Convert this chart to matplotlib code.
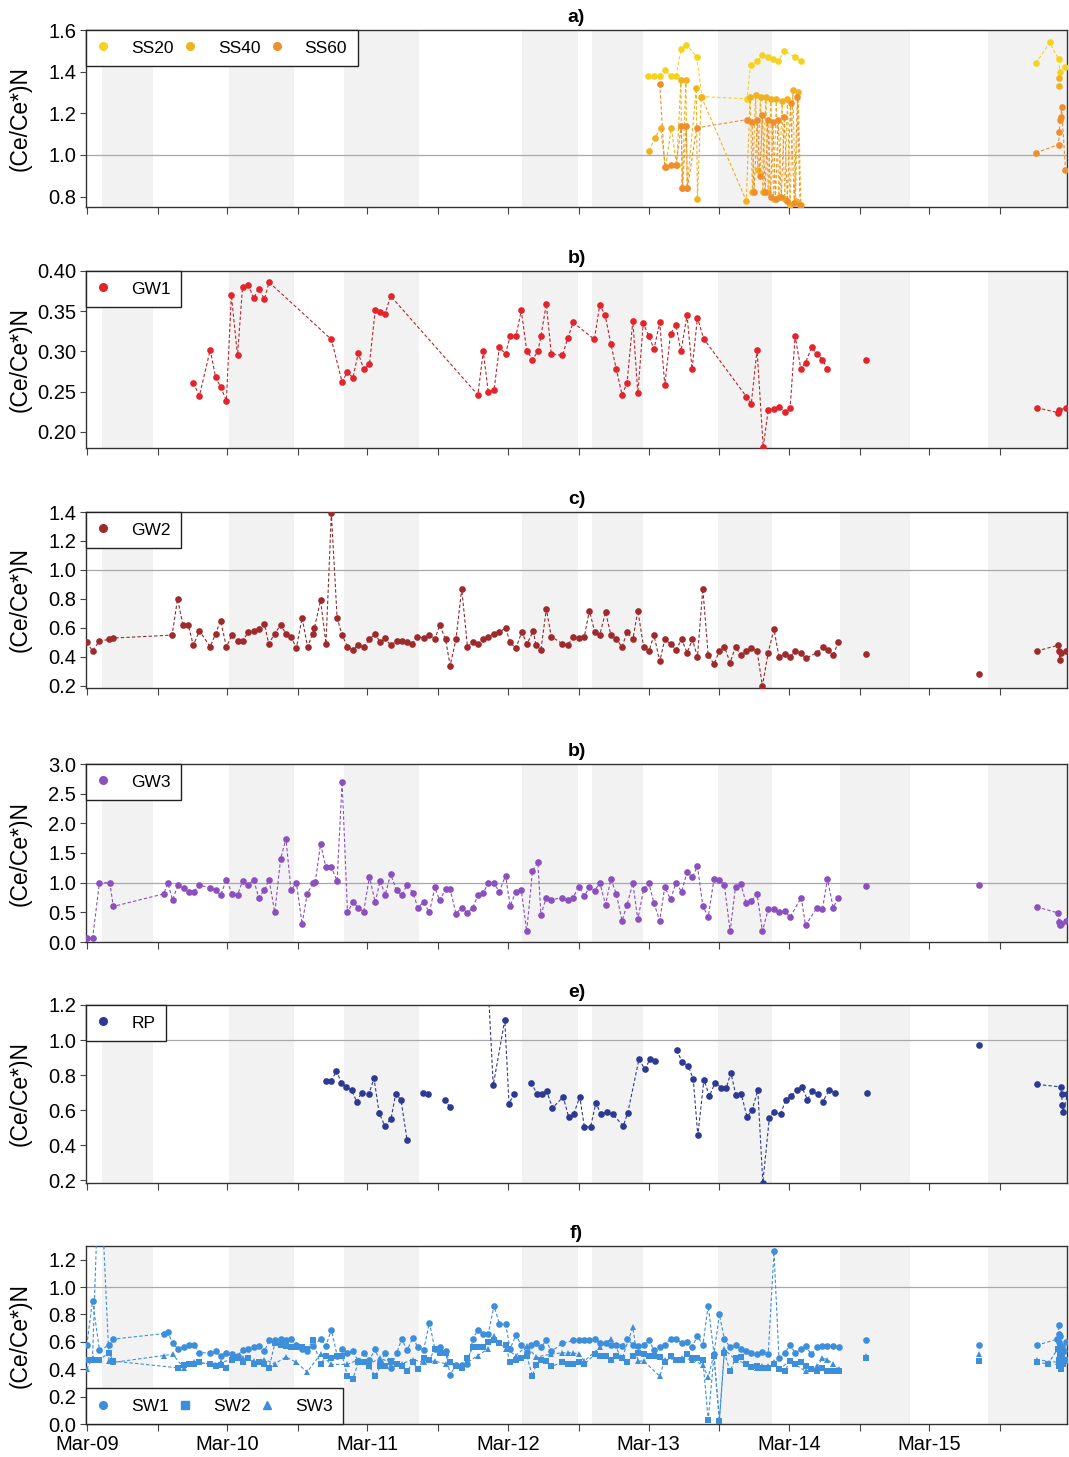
import numpy as np
import matplotlib
matplotlib.use("Agg")
import matplotlib.pyplot as plt
import matplotlib.dates as mdates
from matplotlib.lines import Line2D

plt.rcParams["font.family"] = ["Liberation Sans", "DejaVu Sans"]

# sampling days are counted from 2009-03-01; each inner list is one joined run
t0 = np.datetime64("2009-03-01")

# shaded periods
band_start = ["2009-04-09", "2010-03-05", "2010-12-31", "2012-04-07",
              "2012-10-06", "2013-08-29", "2014-07-12", "2015-07-31"]
band_end = ["2009-08-19", "2010-08-23", "2011-07-14", "2012-08-30",
            "2013-02-15", "2014-01-16", "2015-01-10", "2016-03-01"]

# a) soil solutions
ss20_days = [[1460, 1475, 1490, 1503, 1518, 1532, 1546, 1559, 1586, 1600,
              1717, 1726, 1744, 1757, 1771, 1784, 1798, 1814, 1841, 1856],
             [2468, 2504, 2527, 2531, 2545]]
ss20_vals = [[1.38, 1.38, 1.38, 1.41, 1.38, 1.38, 1.51, 1.53, 1.47, 1.28,
              1.27, 1.43, 1.45, 1.48, 1.47, 1.46, 1.45, 1.50, 1.47, 1.45],
             [1.44, 1.54, 1.46, 1.40, 1.42]]
ss40_days = [[1462, 1477, 1492, 1505, 1520, 1534, 1545, 1548, 1558, 1561,
              1585, 1588, 1598, 1715, 1725, 1731, 1739, 1745, 1752, 1758,
              1766, 1772, 1779, 1786, 1793, 1800, 1808, 1815, 1822, 1829,
              1836, 1843, 1850, 1857],
             [2527, 2529]]
ss40_vals = [[1.02, 1.08, 1.13, 0.94, 1.13, 0.95, 1.36, 0.84, 1.36, 0.84,
              1.32, 0.79, 1.28, 0.78, 1.28, 0.82, 1.29, 0.93, 1.28, 0.82,
              1.28, 0.82, 1.27, 0.79, 1.27, 0.80, 1.26, 0.79, 1.27, 0.76,
              1.31, 0.78, 1.30, 0.76],
             [1.37, 1.33]]
ss60_days = [[1490, 1503, 1518, 1532, 1546, 1549, 1559, 1562, 1586, 1717,
              1730, 1735, 1744, 1750, 1757, 1764, 1771, 1778, 1784, 1791,
              1798, 1806, 1814, 1822, 1830, 1840, 1848, 1855],
             [2468, 2527, 2529, 2531, 2533, 2535, 2545]]
ss60_vals = [[1.34, 0.94, 0.95, 0.95, 1.14, 0.84, 1.14, 0.84, 1.13, 1.17,
              1.16, 0.82, 1.17, 0.90, 1.19, 0.82, 1.17, 0.80, 1.16, 0.79,
              1.17, 0.80, 1.18, 0.78, 1.25, 0.77, 1.28, 0.76],
             [1.01, 1.05, 1.11, 1.17, 1.18, 1.23, 0.93]]

# b) GW1
gw1_days = [[277, 293, 321, 335, 348, 363, 376, 392, 405, 420,
             434, 447, 462, 474, 636, 664, 678, 692, 706, 720,
             735, 750, 763, 776, 790, 1017, 1031, 1044, 1059, 1073,
             1089, 1101, 1116, 1130, 1144, 1159, 1173, 1181, 1195, 1208,
             1237, 1251, 1265, 1320, 1334, 1348, 1363, 1377, 1392, 1405,
             1420, 1433, 1447, 1462, 1475, 1490, 1503, 1518, 1532, 1545,
             1561, 1574, 1588, 1604, 1715, 1728, 1743, 1759, 1772, 1787,
             1800, 1815, 1829, 1842, 1857, 1869, 1885, 1899, 1913, 1926],
            [2027],
            [2470, 2526, 2529, 2547]]
gw1_vals = [[0.261, 0.245, 0.302, 0.268, 0.256, 0.239, 0.370, 0.295, 0.380, 0.383,
             0.366, 0.378, 0.365, 0.386, 0.315, 0.262, 0.275, 0.267, 0.298, 0.278,
             0.284, 0.351, 0.349, 0.347, 0.369, 0.246, 0.300, 0.250, 0.252, 0.305,
             0.297, 0.319, 0.319, 0.351, 0.301, 0.290, 0.300, 0.319, 0.359, 0.297,
             0.295, 0.317, 0.336, 0.315, 0.358, 0.345, 0.309, 0.278, 0.246, 0.261,
             0.338, 0.248, 0.335, 0.319, 0.303, 0.336, 0.258, 0.322, 0.333, 0.300,
             0.345, 0.278, 0.342, 0.316, 0.244, 0.235, 0.302, 0.181, 0.227, 0.228,
             0.231, 0.225, 0.230, 0.319, 0.278, 0.286, 0.305, 0.297, 0.290, 0.278],
            [0.289],
            [0.230, 0.224, 0.227, 0.230]]

# c) GW2
gw2_days = [[0, 15, 33, 58, 69, 222, 236, 250, 264, 277,
             293, 321, 335, 348, 363, 378, 392, 405, 420, 435,
             447, 462, 473, 489, 504, 518, 531, 545, 560, 574,
             588, 592, 608, 622, 636, 651, 664, 678, 692, 706,
             720, 735, 750, 763, 776, 790, 806, 819, 833, 846,
             860, 876, 891, 905, 918, 933, 945, 960, 975, 990,
             1004, 1017, 1031, 1044, 1058, 1073, 1089, 1101, 1116, 1131,
             1145, 1161, 1168, 1181, 1195, 1208, 1237, 1251, 1265, 1279,
             1294, 1307, 1321, 1334, 1349, 1363, 1377, 1392, 1405, 1420,
             1433, 1448, 1462, 1475, 1490, 1503, 1518, 1532, 1547, 1561,
             1575, 1588, 1602, 1616, 1631, 1645, 1658, 1673, 1687, 1701,
             1715, 1728, 1743, 1757, 1772, 1787, 1800, 1815, 1829, 1842,
             1857, 1869, 1900, 1914, 1927, 1941, 1954],
            [2027], [2320],
            [2470, 2526, 2528, 2530, 2533, 2546]]
gw2_vals = [[0.50, 0.44, 0.51, 0.52, 0.53, 0.55, 0.80, 0.62, 0.62, 0.48,
             0.58, 0.47, 0.56, 0.65, 0.47, 0.55, 0.51, 0.51, 0.57, 0.58,
             0.59, 0.63, 0.49, 0.56, 0.62, 0.56, 0.54, 0.46, 0.67, 0.47,
             0.56, 0.60, 0.79, 0.49, 1.39, 0.67, 0.55, 0.47, 0.45, 0.48,
             0.47, 0.52, 0.56, 0.50, 0.53, 0.48, 0.51, 0.51, 0.50, 0.49,
             0.54, 0.53, 0.55, 0.52, 0.62, 0.52, 0.34, 0.52, 0.87, 0.47,
             0.50, 0.49, 0.52, 0.54, 0.56, 0.57, 0.60, 0.50, 0.46, 0.57,
             0.49, 0.58, 0.48, 0.45, 0.73, 0.54, 0.49, 0.48, 0.54, 0.53,
             0.54, 0.72, 0.57, 0.55, 0.71, 0.55, 0.52, 0.47, 0.57, 0.52,
             0.72, 0.47, 0.44, 0.55, 0.37, 0.52, 0.49, 0.45, 0.52, 0.43,
             0.52, 0.40, 0.87, 0.41, 0.35, 0.44, 0.47, 0.36, 0.47, 0.41,
             0.44, 0.46, 0.44, 0.20, 0.43, 0.59, 0.40, 0.42, 0.40, 0.44,
             0.43, 0.39, 0.43, 0.47, 0.45, 0.41, 0.50],
            [0.42], [0.28],
            [0.44, 0.48, 0.44, 0.38, 0.43, 0.44]]

# d) GW3
gw3_days = [[0, 15, 33, 60, 69, 200, 211, 223, 237, 252,
             265, 279, 292, 321, 335, 348, 363, 378, 392, 405,
             420, 434, 447, 462, 474, 489, 504, 518, 531, 545,
             560, 573, 588, 594, 608, 622, 636, 651, 664, 678,
             692, 706, 720, 735, 750, 763, 776, 790, 806, 819,
             833, 848, 861, 876, 891, 905, 918, 933, 945, 960,
             975, 990, 1004, 1017, 1031, 1044, 1058, 1073, 1089, 1101,
             1116, 1130, 1144, 1159, 1173, 1181, 1195, 1208, 1237, 1251,
             1265, 1279, 1294, 1307, 1321, 1334, 1349, 1363, 1377, 1392,
             1405, 1420, 1433, 1448, 1462, 1475, 1490, 1503, 1518, 1532,
             1547, 1561, 1575, 1588, 1602, 1616, 1631, 1645, 1658, 1673,
             1687, 1701, 1715, 1728, 1743, 1757, 1772, 1787, 1800, 1815,
             1829, 1858, 1869, 1899, 1913, 1926, 1941, 1954],
            [2027], [2320],
            [2470, 2526, 2528, 2530, 2533, 2546]]
gw3_vals = [[0.06, 0.06, 1.00, 1.00, 0.60, 0.81, 0.99, 0.71, 0.96, 0.91,
             0.85, 0.85, 0.96, 0.91, 0.87, 0.79, 1.05, 0.81, 0.79, 1.03,
             0.96, 1.05, 0.75, 0.87, 1.05, 0.50, 1.40, 1.74, 0.87, 1.00,
             0.30, 0.81, 0.99, 1.01, 1.65, 1.26, 1.26, 1.03, 2.70, 0.50,
             0.67, 0.58, 0.51, 1.10, 0.67, 1.03, 0.79, 1.14, 0.87, 0.79,
             0.96, 0.83, 0.58, 0.67, 0.50, 0.92, 0.70, 0.89, 0.89, 0.48,
             0.58, 0.49, 0.58, 0.79, 0.83, 0.99, 0.99, 0.85, 1.12, 0.61,
             0.85, 0.87, 0.18, 1.20, 1.34, 0.46, 0.75, 0.71, 0.75, 0.71,
             0.75, 0.93, 0.78, 0.92, 0.86, 1.00, 0.63, 1.06, 0.81, 0.36,
             0.63, 0.99, 0.38, 0.89, 0.99, 0.65, 0.36, 0.93, 0.72, 0.99,
             0.85, 1.18, 1.09, 1.28, 0.61, 0.42, 1.06, 1.05, 0.96, 0.18,
             0.93, 0.97, 0.65, 0.69, 0.81, 0.18, 0.55, 0.55, 0.50, 0.52,
             0.42, 0.75, 0.28, 0.58, 0.55, 1.06, 0.58, 0.74],
            [0.95], [0.96],
            [0.59, 0.49, 0.34, 0.28, 0.31, 0.36]]

# e) RP
rp_days = [[621, 636, 649, 662, 675, 689, 702, 715, 733, 747,
            760, 775, 791, 803, 817, 833],
           [875, 888], [931, 944],
           [1044, 1057, 1087, 1098, 1111],
           [1156, 1170, 1183, 1196, 1211, 1239, 1253, 1266, 1282, 1294,
            1310, 1324, 1337, 1352, 1368, 1395, 1407, 1436, 1451, 1465, 1478],
           [1534, 1548, 1564, 1577, 1589, 1605, 1619, 1634, 1650, 1663,
            1675, 1688, 1702, 1717, 1730, 1745, 1758, 1775, 1787, 1804,
            1818, 1831, 1846, 1859, 1874, 1887, 1901, 1914, 1930, 1945],
           [2028], [2321],
           [2472, 2533, 2535, 2537, 2539, 2550]]
rp_vals = [[0.766, 0.766, 0.825, 0.758, 0.733, 0.714, 0.648, 0.701, 0.690, 0.781,
            0.587, 0.510, 0.549, 0.690, 0.661, 0.429],
           [0.701, 0.690], [0.661, 0.619],
           [1.30, 0.743, 1.114, 0.638, 0.690],
           [0.758, 0.695, 0.690, 0.709, 0.613, 0.676, 0.562, 0.577, 0.676, 0.505,
            0.505, 0.642, 0.577, 0.590, 0.577, 0.510, 0.587, 0.891, 0.834, 0.891, 0.880],
           [0.943, 0.876, 0.853, 0.777, 0.457, 0.775, 0.680, 0.758, 0.728, 0.728,
            0.813, 0.686, 0.691, 0.562, 0.600, 0.714, 0.187, 0.556, 0.590, 0.577,
            0.661, 0.680, 0.718, 0.733, 0.661, 0.709, 0.690, 0.648, 0.714, 0.701],
           [0.701], [0.971],
           [0.747, 0.733, 0.690, 0.629, 0.590, 0.690]]

# f) surface waters
sw1_days = [[0, 15, 33, 58, 69, 200, 211, 223, 237, 252,
             265, 279, 292, 321, 335, 348, 363, 378, 392, 405,
             420, 434, 447, 462, 474, 489, 504, 518, 531, 545,
             560, 573, 588, 608, 622, 636, 651, 664, 678, 692,
             706, 720, 735, 750, 763, 776, 790, 806, 819, 833,
             848, 861, 876, 891, 905, 918, 933, 945, 960, 975,
             990, 1004, 1017, 1031, 1044, 1059, 1073, 1089, 1101, 1116,
             1130, 1144, 1154, 1168, 1181, 1195, 1208, 1237, 1265, 1279,
             1294, 1307, 1321, 1334, 1349, 1363, 1377, 1392, 1405, 1420,
             1433, 1448, 1462, 1475, 1490, 1503, 1518, 1532, 1547, 1561,
             1575, 1588, 1602, 1616, 1631, 1645, 1658, 1673, 1687, 1701,
             1715, 1728, 1743, 1757, 1772, 1787, 1800, 1815, 1829, 1842,
             1857, 1869, 1884, 1899, 1913, 1926, 1940, 1955],
            [2027], [2319],
            [2470, 2524, 2526, 2527, 2528, 2529, 2530, 2531, 2532, 2533,
             2535, 2537, 2540, 2546]]
sw1_vals = [[0.575, 0.90, 0.54, 0.575, 0.62, 0.66, 0.67, 0.59, 0.55, 0.56,
             0.575, 0.575, 0.52, 0.52, 0.53, 0.50, 0.52, 0.51, 0.50, 0.54,
             0.545, 0.56, 0.57, 0.53, 0.61, 0.61, 0.62, 0.61, 0.62, 0.58,
             0.55, 0.53, 0.57, 0.62, 0.57, 0.69, 0.50, 0.55, 0.52, 0.53,
             0.46, 0.52, 0.47, 0.545, 0.45, 0.52, 0.41, 0.52, 0.62, 0.54,
             0.63, 0.56, 0.54, 0.74, 0.55, 0.565, 0.53, 0.36, 0.43, 0.43,
             0.435, 0.62, 0.69, 0.66, 0.66, 0.865, 0.73, 0.73, 0.55, 0.65,
             0.575, 0.525, 0.575, 0.595, 0.56, 0.61, 0.53, 0.59, 0.61, 0.61,
             0.61, 0.61, 0.62, 0.595, 0.595, 0.58, 0.575, 0.57, 0.62, 0.58,
             0.57, 0.575, 0.61, 0.54, 0.56, 0.58, 0.62, 0.62, 0.59, 0.60,
             0.565, 0.645, 0.575, 0.865, 0.51, 0.80, 0.62, 0.56, 0.575, 0.545,
             0.53, 0.52, 0.51, 0.525, 0.51, 1.26, 0.48, 0.52, 0.575, 0.52,
             0.545, 0.57, 0.51, 0.56, 0.57, 0.57, 0.57, 0.56],
            [0.61], [0.575],
            [0.575, 0.62, 0.55, 0.72, 0.66, 0.60, 0.52, 0.64, 0.58, 0.50,
             0.56, 0.48, 0.53, 0.60]]
sw2_days = [[0, 15, 33, 58, 69, 237, 252, 265, 279, 292,
             321, 335, 348, 363, 378, 392, 405, 420, 434, 447,
             462, 474, 489, 504, 518, 531, 545, 560, 573, 588,
             608, 622, 636, 651, 664, 678, 692, 706, 720, 735,
             750, 763, 776, 790, 806, 819, 833, 848, 861, 876,
             891, 905, 918, 933, 945, 960, 975, 990, 1004, 1017,
             1031, 1044, 1059, 1073, 1089, 1101, 1116, 1130, 1144, 1159,
             1168, 1181, 1195, 1208, 1237, 1251, 1265, 1279, 1294, 1321,
             1334, 1349, 1363, 1377, 1392, 1405, 1420, 1433, 1448, 1462,
             1475, 1490, 1503, 1518, 1532, 1547, 1561, 1575, 1588, 1602,
             1616, 1631, 1645, 1658, 1673, 1687, 1701, 1715, 1728, 1743,
             1757, 1772, 1787, 1800, 1815, 1829, 1842, 1857, 1869, 1884,
             1899, 1913, 1926, 1940, 1955],
            [2027], [2319],
            [2470, 2500, 2525, 2527, 2528, 2530, 2531, 2533, 2535, 2538, 2546]]
sw2_vals = [[0.47, 0.47, 0.47, 0.52, 0.46, 0.41, 0.43, 0.435, 0.44, 0.45,
             0.435, 0.42, 0.43, 0.41, 0.47, 0.48, 0.45, 0.48, 0.44, 0.45,
             0.435, 0.41, 0.59, 0.575, 0.57, 0.565, 0.56, 0.56, 0.545, 0.61,
             0.435, 0.50, 0.48, 0.50, 0.50, 0.35, 0.33, 0.45, 0.45, 0.42,
             0.35, 0.42, 0.42, 0.46, 0.435, 0.42, 0.385, 0.45, 0.40, 0.48,
             0.47, 0.545, 0.52, 0.52, 0.45, 0.42, 0.41, 0.48, 0.56, 0.565,
             0.565, 0.60, 0.61, 0.595, 0.575, 0.45, 0.47, 0.48, 0.50, 0.35,
             0.43, 0.47, 0.46, 0.42, 0.45, 0.44, 0.44, 0.45, 0.435, 0.51,
             0.50, 0.50, 0.47, 0.50, 0.48, 0.45, 0.50, 0.52, 0.51, 0.50,
             0.50, 0.49, 0.45, 0.50, 0.47, 0.47, 0.51, 0.48, 0.48, 0.47,
             0.03, 0.50, 0.02, 0.52, 0.385, 0.48, 0.49, 0.435, 0.415, 0.42,
             0.41, 0.41, 0.435, 0.40, 0.385, 0.46, 0.435, 0.45, 0.42, 0.40,
             0.385, 0.41, 0.385, 0.385, 0.39],
            [0.48], [0.46],
            [0.45, 0.44, 0.55, 0.47, 0.42, 0.50, 0.45, 0.40, 0.52, 0.44, 0.47]]
sw3_days = [[0, 15, 33, 58, 69, 200, 223, 252, 279, 321,
             348, 378, 405, 434, 462, 489, 518, 545, 573, 608,
             636, 678, 706, 735, 763, 790, 819, 848, 876, 905,
             933, 960, 990, 1017, 1044, 1059, 1089, 1116, 1144, 1168,
             1208, 1237, 1251, 1265, 1279, 1294, 1334, 1363, 1392, 1420,
             1433, 1448, 1490, 1503, 1547, 1575, 1602, 1616, 1631, 1645,
             1658, 1687, 1715, 1743, 1757, 1772, 1787, 1800, 1829, 1869,
             1899, 1913, 1926, 1940, 1955],
            [2027], [2319],
            [2470, 2526, 2529, 2532, 2536, 2546]]
sw3_vals = [[0.40, 0.48, 2.00, 0.46, 0.45, 0.50, 0.51, 0.41, 0.45, 0.44,
             0.45, 0.47, 0.48, 0.46, 0.47, 0.44, 0.49, 0.45, 0.38, 0.51,
             0.435, 0.435, 0.47, 0.44, 0.48, 0.45, 0.44, 0.47, 0.45, 0.46,
             0.44, 0.42, 0.45, 0.50, 0.55, 0.64, 0.55, 0.50, 0.57, 0.49,
             0.51, 0.52, 0.52, 0.52, 0.51, 0.46, 0.56, 0.62, 0.48, 0.705,
             0.46, 0.46, 0.35, 0.47, 0.48, 0.47, 0.43, 0.34, 0.51, 0.03,
             0.545, 0.47, 0.44, 0.41, 0.42, 0.42, 0.45, 0.40, 0.46, 0.385,
             0.42, 0.48, 0.47, 0.44, 0.40],
            [0.50], [0.51],
            [0.47, 0.45, 0.58, 0.42, 0.50, 0.46]]

W, H = 1069, 1457
fig = plt.figure(figsize=(W / 100, H / 100), dpi=100)
panels = [(30, 207), (271, 448), (512, 688), (764, 942), (1005, 1183), (1246, 1424)]
left, right = 86, 1067


def draw(ax, days, vals, color, marker, label, lcolor=None):
    for d, v in zip(days, vals):
        x = t0 + np.array(d).astype("timedelta64[D]")
        ax.plot(x, v, ls=(0, (3, 2)), lw=0.8, color=lcolor or color,
                marker=marker, ms=4.8, mfc=color, mec=color, mew=0, zorder=3)
    return Line2D([], [], ls="none", marker=marker, ms=5.5, color=color, label=label)


def add_legend(ax, handles, loc, ncol=1):
    leg = ax.legend(handles=handles, loc=loc, ncol=ncol, fontsize=12.5,
                    borderaxespad=0, borderpad=0.6, handlelength=0.8,
                    handletextpad=1.2, columnspacing=0.55, fancybox=False,
                    framealpha=1, edgecolor="#222222")
    leg.get_frame().set_linewidth(1.0)
    leg.set_zorder(5)
    return leg


axes = []
for top, bot in panels:
    ax = fig.add_axes([left / W, 1 - bot / H, (right - left) / W, (bot - top) / H])
    for s, e in zip(band_start, band_end):
        ax.axvspan(np.datetime64(s), np.datetime64(e), color="#F2F2F2", lw=0, zorder=0)
    ax.set_xlim(np.datetime64("2009-02-27"), np.datetime64("2016-02-22"))
    ax.xaxis.set_major_locator(mdates.MonthLocator(bymonth=3))
    ax.xaxis.set_minor_locator(mdates.MonthLocator(bymonth=9))
    ax.xaxis.set_major_formatter(mdates.DateFormatter("%b-%y"))
    ax.tick_params(axis="x", which="both", direction="out", length=5, width=0.8,
                   color="#444444", labelbottom=False)
    ax.tick_params(axis="y", direction="out", length=4, width=0.8, color="#444444",
                   labelsize=14.5, pad=3)
    for sp in ax.spines.values():
        sp.set_color("#333333")
        sp.set_linewidth(1.0)
    ax.set_ylabel("(Ce/Ce*)N", fontsize=16.5)
    ax.yaxis.set_label_coords(-0.055, 0.5)
    axes.append(ax)

ax_a, ax_b, ax_c, ax_d, ax_e, ax_f = axes

# a)
h = [draw(ax_a, ss20_days, ss20_vals, "#F4D21F", "o", "SS20"),
     draw(ax_a, ss40_days, ss40_vals, "#F1B21F", "o", "SS40"),
     draw(ax_a, ss60_days, ss60_vals, "#EE8E2C", "o", "SS60")]
ax_a.set_ylim(0.75, 1.6)
ax_a.set_yticks(np.arange(0.8, 1.61, 0.2))
ax_a.set_yticklabels([f"{v:.1f}" for v in np.arange(0.8, 1.61, 0.2)])
ax_a.set_title("a)", fontweight="bold", fontsize=14, pad=6)
add_legend(ax_a, h, "upper left", ncol=3)

# b)
h = [draw(ax_b, gw1_days, gw1_vals, "#E3242B", "o", "GW1", lcolor="#B8262E")]
ax_b.set_ylim(0.18, 0.40)
ax_b.set_yticks([0.20, 0.25, 0.30, 0.35, 0.40])
ax_b.set_yticklabels(["0.20", "0.25", "0.30", "0.35", "0.40"])
ax_b.set_title("b)", fontweight="bold", fontsize=14, pad=6)
add_legend(ax_b, h, "upper left")

# c)
h = [draw(ax_c, gw2_days, gw2_vals, "#9E2B2C", "o", "GW2", lcolor="#8E2A2B")]
ax_c.set_ylim(0.185, 1.4)
ax_c.set_yticks(np.arange(0.2, 1.41, 0.2))
ax_c.set_yticklabels([f"{v:.1f}" for v in np.arange(0.2, 1.41, 0.2)])
ax_c.set_title("c)", fontweight="bold", fontsize=14, pad=6)
add_legend(ax_c, h, "upper left")

# d) (the panel letter repeats b) in the original)
h = [draw(ax_d, gw3_days, gw3_vals, "#8C4FBE", "o", "GW3")]
ax_d.set_ylim(0.0, 3.0)
ax_d.set_yticks(np.arange(0.0, 3.01, 0.5))
ax_d.set_yticklabels([f"{v:.1f}" for v in np.arange(0.0, 3.01, 0.5)])
ax_d.set_title("b)", fontweight="bold", fontsize=14, pad=6)
add_legend(ax_d, h, "upper left")

# e)
h = [draw(ax_e, rp_days, rp_vals, "#2D3A92", "o", "RP")]
ax_e.set_ylim(0.185, 1.2)
ax_e.set_yticks(np.arange(0.2, 1.21, 0.2))
ax_e.set_yticklabels([f"{v:.1f}" for v in np.arange(0.2, 1.21, 0.2)])
ax_e.set_title("e)", fontweight="bold", fontsize=14, pad=6)
add_legend(ax_e, h, "upper left")

# f)
h = [draw(ax_f, sw1_days, sw1_vals, "#3D8EDB", "o", "SW1"),
     draw(ax_f, sw2_days, sw2_vals, "#3D8EDB", "s", "SW2"),
     draw(ax_f, sw3_days, sw3_vals, "#3D8EDB", "^", "SW3")]
ax_f.set_ylim(0.0, 1.3)
ax_f.set_yticks(np.arange(0.0, 1.21, 0.2))
ax_f.set_yticklabels([f"{v:.1f}" for v in np.arange(0.0, 1.21, 0.2)])
ax_f.set_title("f)", fontweight="bold", fontsize=14, pad=6)
ax_f.tick_params(axis="x", which="major", labelbottom=True, labelsize=14.5, pad=3)
add_legend(ax_f, h, "lower left", ncol=3)

for ax in (ax_a, ax_c, ax_d, ax_e, ax_f):
    ax.axhline(1.0, color="#A8A8A8", lw=0.9, zorder=1)

fig.savefig("out.png", dpi=100)
